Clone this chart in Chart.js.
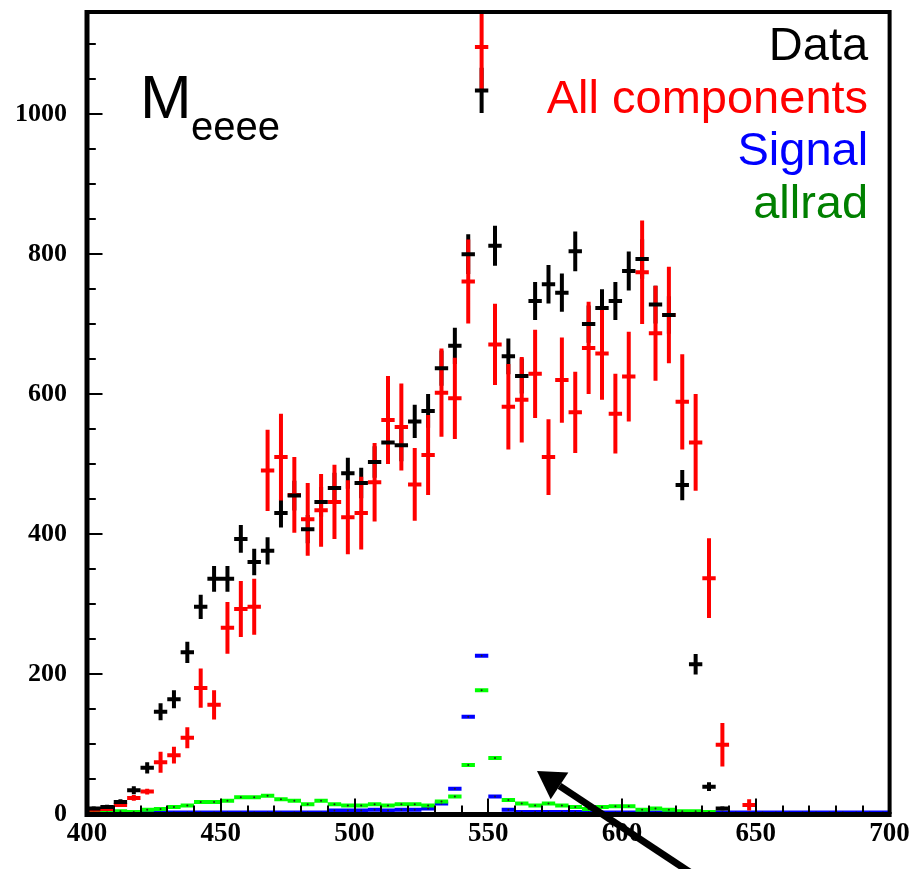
<!DOCTYPE html>
<html>
<head>
<meta charset="utf-8">
<script src="https://cdn.jsdelivr.net/npm/chart.js@4.4.1/dist/chart.umd.min.js"></script>
<style>
  html, body { margin: 0; padding: 0; background: #fff; }
  #wrap { width: 914px; height: 869px; position: relative; }
</style>
</head>
<body>
<div id="wrap"><canvas id="c" width="914" height="869"></canvas></div>
<script>
// Four-electron invariant mass, 5-unit bins from 400 to 700
const binWidth = 5;
const binCenters = [
  402.5, 407.5, 412.5, 417.5, 422.5, 427.5, 432.5, 437.5, 442.5, 447.5,
  452.5, 457.5, 462.5, 467.5, 472.5, 477.5, 482.5, 487.5, 492.5, 497.5,
  502.5, 507.5, 512.5, 517.5, 522.5, 527.5, 532.5, 537.5, 542.5, 547.5,
  552.5, 557.5, 562.5, 567.5, 572.5, 577.5, 582.5, 587.5, 592.5, 597.5,
  602.5, 607.5, 612.5, 617.5, 622.5, 627.5, 632.5, 637.5, 642.5, 647.5,
  652.5, 657.5, 662.5, 667.5, 672.5, 677.5, 682.5, 687.5, 692.5, 697.5
];

// Data
const dataCounts = [
  8, 10, 17, 34, 66, 146, 164, 231, 296, 336,
  336, 393, 360, 376, 430, 455, 407, 446, 466, 487,
  473, 503, 531, 527, 561, 576, 637, 669, 800, 1034,
  812, 654, 626, 733, 757, 745, 804, 700, 723, 733,
  776, 793, 728, 713, 470, 214, 39, 8, null, null,
  null, null, null, null, null, null, null, null, null, null
];
const dataErrors = [
  2.8, 3.2, 4.1, 5.8, 8.1, 12.1, 12.8, 15.2, 17.2, 18.3,
  18.3, 19.8, 19.0, 19.4, 20.7, 21.3, 20.2, 21.1, 21.6, 22.1,
  21.7, 22.4, 23.0, 23.0, 23.7, 24.0, 25.2, 25.9, 28.3, 32.2,
  28.5, 25.6, 25.0, 27.1, 27.5, 27.3, 28.4, 26.5, 26.9, 27.1,
  27.9, 28.2, 27.0, 26.7, 21.7, 14.6, 6.2, 2.8, null, null,
  null, null, null, null, null, null, null, null, null, null
];

// All components
const allComponents = [
  6, 7, 13, 23, 32, 74, 84, 109, 180, 156,
  266, 293, 296, 491, 510, 456, 421, 434, 446, 424,
  430, 474, 563, 553, 471, 513, 602, 594, 761, 1096,
  671, 582, 592, 629, 510, 620, 574, 666, 658, 572,
  625, 774, 687, 713, 589, 531, 337, 99, null, 13,
  null, null, null, null, null, null, null, null, null, null
];
const allComponentsErrors = [
  2, 2, 3, 4, 4, 15, 12, 15, 28, 21,
  37, 40, 40, 58, 62, 54, 52, 52, 53, 53,
  52, 56, 63, 62, 52, 57, 63, 58, 60, 64,
  58, 61, 61, 63, 54, 61, 58, 66, 66, 57,
  64, 74, 68, 69, 68, 69, 57, 31, null, 8,
  null, null, null, null, null, null, null, null, null, null
];

// Signal
const signal = [
  2, 2, 2, 2, 2, 2, 2, 2, 2, 2,
  2, 2, 2, 2, 2, 2, 2, 2, 5, 5,
  5, 6, 5, 6, 6, 8, 15, 36, 139, 226,
  25, 6, 3, 3, 3, 3, 3, 2, 2, 2,
  2, 2, 2, 2, 2, 2, 2, 2, 2, 2,
  2, 2, 2, 2, 2, 2, 2, 2, 2, 2
];

// allrad
const allrad = [
  5, 5, 4, 3, 6, 7, 10, 12, 17, 17,
  19, 24, 24, 26, 21, 19, 14, 19, 14, 12,
  12, 14, 12, 14, 14, 12, 18, 25, 70, 177,
  80, 20, 15, 12, 15, 12, 10, 7, 10, 11,
  11, 6, 8, 6, 4, 4, 3, null, null, null,
  null, null, null, null, null, null, null, null, null, null
];

const xTickValues = [400, 450, 500, 550, 600, 650, 700];
const yTickValues = [0, 200, 400, 600, 800, 1000];
const legendLabels = ['Data', 'All components', 'Signal', 'allrad'];

const SANS = '"Liberation Sans", Arial, Helvetica, sans-serif';
const SERIF = '"Liberation Serif", "Times New Roman", serif';

// Horizontal bin-wide segments, broken between bins
function binSegments(values) {
  const pts = [];
  values.forEach((v, i) => {
    if (v == null) return;
    const c = binCenters[i];
    pts.push({x: c - binWidth / 2, y: v}, {x: c + binWidth / 2, y: v}, {x: c, y: null});
  });
  return pts;
}
// Vertical error segments at bin centres
function errorSegments(values, errors) {
  const pts = [];
  values.forEach((v, i) => {
    if (v == null || errors[i] == null) return;
    const c = binCenters[i];
    pts.push({x: c, y: v - errors[i]}, {x: c, y: v + errors[i]}, {x: c, y: null});
  });
  return pts;
}
function centreDots(values) {
  const pts = [];
  values.forEach((v, i) => { if (v != null) pts.push({x: binCenters[i], y: v}); });
  return pts;
}

function segmentSet(label, data, color, width, order) {
  return {
    label, data, order,
    showLine: true, spanGaps: false,
    borderColor: color, backgroundColor: color,
    borderWidth: width, borderCapStyle: 'butt',
    pointRadius: 0, pointHoverRadius: 0, tension: 0
  };
}
function dotSet(label, data, order) {
  return {
    label, data, order, showLine: false,
    pointRadius: 1, pointHoverRadius: 0, pointBorderWidth: 0,
    pointBackgroundColor: '#202020', backgroundColor: '#202020'
  };
}

const BLACK = '#000000', RED = '#ff0000', BLUE = '#0000ff', GREEN = '#00ff00';

const datasets = [
  segmentSet('Data', binSegments(dataCounts), BLACK, 4, 0),
  segmentSet('All components', binSegments(allComponents), RED, 4, 1),
  dotSet('All components centres', centreDots(allComponents), 1),
  segmentSet('All components errors', errorSegments(allComponents, allComponentsErrors), RED, 4, 2),
  segmentSet('Data errors', errorSegments(dataCounts, dataErrors), BLACK, 4, 3),
  dotSet('allrad centres', centreDots(allrad), 4),
  segmentSet('allrad', binSegments(allrad), GREEN, 4, 5),
  dotSet('Signal centres', centreDots(signal), 6),
  segmentSet('Signal', binSegments(signal), BLUE, 4, 7)
];

// Frame, inward ticks, labels and the pointer arrow
const decorations = {
  id: 'decorations',
  afterDatasetsDraw(chart, args, opts) {
    const {ctx, chartArea: a, scales: {x, y}} = chart;
    ctx.save();

    // tick marks pointing into the frame
    ctx.strokeStyle = '#000';
    ctx.lineWidth = 2;
    ctx.beginPath();
    for (let v = 0; v <= y.max; v += 50) {
      const py = Math.round(y.getPixelForValue(v));
      const len = v % 200 === 0 ? 13.5 : 6.8;
      ctx.moveTo(a.left + 2, py);
      ctx.lineTo(a.left + 2 + len, py);
    }
    for (let v = x.min; v <= x.max; v += 10) {
      const px = Math.round(x.getPixelForValue(v));
      const len = v % 50 === 0 ? 14 : 7;
      ctx.moveTo(px, a.bottom - 1.5);
      ctx.lineTo(px, a.bottom - 1.5 - len);
    }
    ctx.stroke();

    // frame
    ctx.beginPath();
    ctx.lineWidth = 4;
    ctx.moveTo(a.left, a.top); ctx.lineTo(a.right, a.top);
    ctx.moveTo(a.right, a.top - 2); ctx.lineTo(a.right, a.bottom);
    ctx.stroke();
    ctx.beginPath();
    ctx.lineWidth = 5;
    ctx.moveTo(a.left, a.top - 2); ctx.lineTo(a.left, a.bottom + 3);
    ctx.moveTo(a.left - 2.5, a.bottom + 0.5); ctx.lineTo(a.right + 2, a.bottom + 0.5);
    ctx.stroke();

    // variable name
    ctx.fillStyle = '#000';
    ctx.textAlign = 'left';
    ctx.textBaseline = 'alphabetic';
    ctx.font = '62px ' + SANS;
    ctx.fillText('M', a.left + 53, a.top + 106);
    ctx.font = '40px ' + SANS;
    ctx.fillText('eeee', a.left + 104, a.top + 128);

    // legend text
    const colors = [BLACK, RED, BLUE, '#008000'];
    ctx.font = '47px ' + SANS;
    ctx.textAlign = 'right';
    legendLabels.forEach((t, i) => {
      ctx.fillStyle = colors[i];
      ctx.fillText(t, a.right - 21.5, a.top + 48 + i * 52.7);
    });

    // arrow
    const tip = {x: x.getPixelForValue(opts.arrowTip[0]), y: y.getPixelForValue(opts.arrowTip[1])};
    const tail = {x: x.getPixelForValue(opts.arrowTail[0]), y: y.getPixelForValue(opts.arrowTail[1])};
    const ang = Math.atan2(tip.y - tail.y, tip.x - tail.x);
    const headLen = 27, headHalf = 16;
    const base = {x: tip.x - headLen * Math.cos(ang), y: tip.y - headLen * Math.sin(ang)};
    ctx.strokeStyle = '#000';
    ctx.fillStyle = '#000';
    ctx.lineWidth = 7;
    ctx.lineCap = 'butt';
    ctx.beginPath();
    ctx.moveTo(tail.x, tail.y);
    ctx.lineTo(base.x, base.y);
    ctx.stroke();
    ctx.beginPath();
    ctx.moveTo(tip.x, tip.y);
    ctx.lineTo(base.x + headHalf * Math.sin(ang), base.y - headHalf * Math.cos(ang));
    ctx.lineTo(base.x - headHalf * Math.sin(ang), base.y + headHalf * Math.cos(ang));
    ctx.closePath();
    ctx.fill();

    ctx.restore();
  }
};

function noScalePadding(s) {
  s.paddingTop = 0; s.paddingBottom = 0; s.paddingLeft = 0; s.paddingRight = 0;
}

new Chart(document.getElementById('c'), {
  type: 'scatter',
  data: {datasets},
  plugins: [decorations],
  options: {
    responsive: false,
    animation: false,
    devicePixelRatio: 1,
    events: [],
    layout: {padding: {top: 12, right: 24.4, bottom: 0, left: 0}},
    plugins: {
      legend: {display: false},
      tooltip: {enabled: false},
      decorations: {arrowTip: [568.2, 61.4], arrowTail: [625.3, -83]}
    },
    scales: {
      x: {
        type: 'linear', min: 400, max: 700,
        afterFit: s => { s.height = 55; noScalePadding(s); },
        grid: {display: false, drawTicks: false},
        border: {display: false},
        afterBuildTicks: s => { s.ticks = xTickValues.map(v => ({value: v})); },
        ticks: {
          color: '#000', padding: 4, maxRotation: 0, autoSkip: false,
          font: {family: SERIF, weight: 'bold', size: 27},
          callback: v => String(v)
        }
      },
      y: {
        type: 'linear', min: 0, max: 1146,
        afterFit: s => { s.width = 87; noScalePadding(s); },
        grid: {display: false, drawTicks: false},
        border: {display: false},
        afterBuildTicks: s => { s.ticks = yTickValues.map(v => ({value: v})); },
        ticks: {
          color: '#000', padding: 20, autoSkip: false,
          font: {family: SERIF, weight: 'bold', size: 26},
          callback: v => String(v)
        }
      }
    }
  }
});
</script>
</body>
</html>
